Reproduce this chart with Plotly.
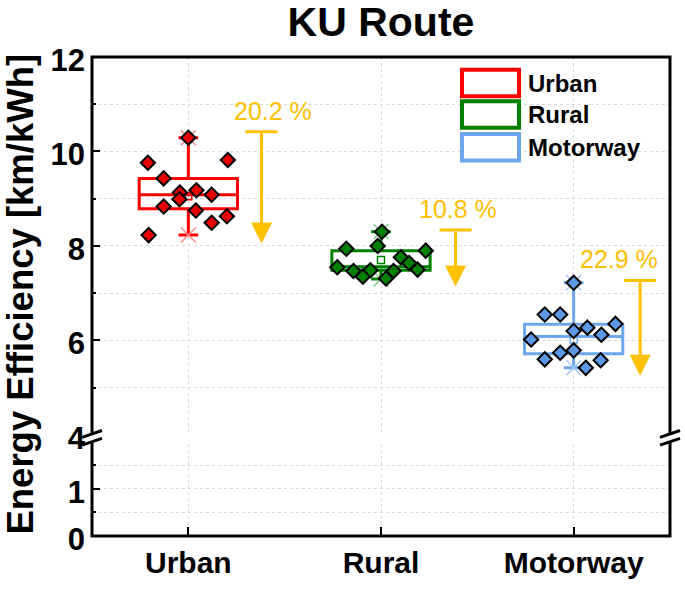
import plotly.graph_objects as go

# ---------------- data ----------------
categories = ["Urban", "Rural", "Motorway"]

urban_values = [10.29, 9.76, 9.82, 9.43, 9.13, 9.18, 9.085, 8.99, 8.835, 8.75, 8.63, 8.49, 8.23]
urban_jitter = [0.0, -0.21, 0.205, -0.128, -0.044, 0.042, 0.121, -0.046, -0.128, 0.039, 0.2, 0.121, -0.206]

rural_values = [8.30, 7.94, 8.00, 7.90, 7.76, 7.64, 7.50, 7.55, 7.47, 7.485, 7.35, 7.31, 7.47]
rural_jitter = [0.005, -0.18, -0.017, 0.232, 0.103, 0.146, 0.19, -0.227, -0.143, -0.055, -0.094, 0.026, 0.065]

motorway_values = [7.22, 6.55, 6.55, 6.35, 6.27, 6.20, 6.12, 6.02, 5.79, 5.74, 5.60, 5.58, 5.42]
motorway_jitter = [0.0, -0.15, -0.07, 0.217, 0.071, 0.0, 0.144, -0.221, 0.0, -0.07, -0.15, 0.14, 0.063]

box_q1 = [8.785, 7.485, 5.72]
box_median = [9.085, 7.56, 6.085]
box_q3 = [9.43, 7.90, 6.34]
box_lower = [8.23, 7.30, 5.42]
box_upper = [10.29, 8.30, 7.22]
box_mean = [9.05, 7.70, 6.02]

reduction_pct = [20.2, 10.8, 22.9]
arrow_top = [10.42, 8.34, 7.27]
arrow_tip = [8.05, 7.14, 5.25]

upper_ticks = [4, 6, 8, 10, 12]
lower_ticks = [0, 1]

# ---------------- styling ----------------
FONT = "Liberation Sans"
box_colors = ["#FF0000", "#008000", "#6EA6EE"]
marker_colors = ["#E80000", "#008000", "#5C98E4"]
x_colors = ["#FF8C8C", "#80D080", "#A6C8F4"]
GOLD = "#FFC000"
GRID = "#D9D9D9"

series_values = [urban_values, rural_values, motorway_values]
series_jitter = [urban_jitter, rural_jitter, motorway_jitter]

fig = go.Figure()

# dummy trace on the lower (broken) axis part
fig.add_trace(go.Scatter(x=[None], y=[None], yaxis="y", xaxis="x", showlegend=False))

for i, cat in enumerate(categories):
    pos = i + 1
    fig.add_trace(go.Box(
        x=[pos], q1=[box_q1[i]], median=[box_median[i]], q3=[box_q3[i]],
        lowerfence=[box_lower[i]], upperfence=[box_upper[i]],
        width=0.51, whiskerwidth=0.2,
        line=dict(color=box_colors[i], width=3),
        fillcolor="rgba(255,255,255,0)",
        boxpoints=False, yaxis="y2", showlegend=False, name=cat,
        hoverinfo="skip",
    ))
    # min / max cross markers
    fig.add_trace(go.Scatter(
        x=[pos, pos], y=[box_lower[i], box_upper[i]], mode="markers",
        marker=dict(symbol="x-thin", size=15, line=dict(color=x_colors[i], width=1.5)),
        yaxis="y2", showlegend=False, hoverinfo="skip",
    ))
    # mean marker
    fig.add_trace(go.Scatter(
        x=[pos], y=[box_mean[i]], mode="markers",
        marker=dict(symbol="square-open", size=7, color=box_colors[i], line=dict(width=1.5)),
        yaxis="y2", showlegend=False, hoverinfo="skip",
    ))
    # data points
    fig.add_trace(go.Scatter(
        x=[pos + j for j in series_jitter[i]], y=series_values[i], mode="markers",
        marker=dict(symbol="diamond", size=11, color=marker_colors[i],
                    line=dict(color="black", width=2)),
        yaxis="y2", showlegend=False,
    ))

# arrows with percentage labels
arrow_dx = [0.38, 0.387, 0.345]
label_dx = [0.438, 0.40, 0.237]
label_y = [10.86, 8.78, 7.72]
for i in range(3):
    ax_x = i + 1 + arrow_dx[i]
    fig.add_annotation(
        x=ax_x, y=arrow_tip[i], ax=ax_x, ay=arrow_top[i],
        xref="x", yref="y2", axref="x", ayref="y2",
        showarrow=True, arrowhead=2, arrowsize=1.4, arrowwidth=3,
        arrowcolor=GOLD, text="",
    )
    fig.add_shape(type="line", xref="x", yref="y2",
                  x0=ax_x - 0.083, x1=ax_x + 0.083, y0=arrow_top[i], y1=arrow_top[i],
                  line=dict(color=GOLD, width=3))
    fig.add_annotation(
        x=i + 1 + label_dx[i], y=label_y[i], xref="x", yref="y2",
        text=f"{reduction_pct[i]} %", showarrow=False,
        font=dict(family=FONT, size=25, color=GOLD),
        xanchor="center", yanchor="middle",
    )

# ---------------- layout ----------------
L, R, T, B = 92, 670, 57, 545
W, H = 685, 591
pw, ph = R - L, B - T


def px(xp):
    return (xp - L) / pw


def py(yp):
    return (B - yp) / ph


axis_font = dict(family=FONT, size=31, color="black", weight="bold")

fig.update_layout(
    width=W, height=H,
    margin=dict(l=L, r=W - R, t=T, b=H - B, pad=0),
    paper_bgcolor="white", plot_bgcolor="white",
    title=dict(text="<b>KU Route</b>", x=px(381), xref="paper", xanchor="center",
               y=1 - 22 / H, yref="container", yanchor="middle",
               font=dict(family=FONT, size=41, color="black")),
    xaxis=dict(
        range=[0.5, 3.5], tickmode="array", tickvals=[1, 2, 3], ticktext=categories,
        ticks="inside", ticklen=9, tickwidth=2, tickcolor="black",
        showline=False, zeroline=False,
        showgrid=True, gridcolor=GRID, griddash="dot", gridwidth=1,
        tickfont=dict(family=FONT, size=30, color="black", weight="bold"),
        anchor="y", ticklabelstandoff=6,
    ),
    yaxis=dict(
        domain=[0, py(451)], range=[0, (B - 451) / 48.125],
        tickmode="array", tickvals=lower_ticks,
        ticks="inside", ticklen=8, tickwidth=2, tickcolor="black",
        minor=dict(dtick=0.5, ticks="inside", ticklen=4, tickwidth=2, tickcolor="black",
                   showgrid=True, gridcolor=GRID, griddash="dot", gridwidth=1),
        showgrid=True, gridcolor=GRID, griddash="dot", gridwidth=1,
        showline=False, zeroline=False, tickfont=axis_font, anchor="x",
        ticklabelstandoff=6, ticklabelshift=3,
    ),
    yaxis2=dict(
        domain=[py(442), 1], range=[4, 12],
        tickmode="array", tickvals=upper_ticks,
        ticks="inside", ticklen=8, tickwidth=2, tickcolor="black",
        minor=dict(dtick=1, tick0=4, ticks="inside", ticklen=4, tickwidth=2, tickcolor="black",
                   showgrid=True, gridcolor=GRID, griddash="dot", gridwidth=1),
        showgrid=True, gridcolor=GRID, griddash="dot", gridwidth=1,
        showline=False, zeroline=False, tickfont=axis_font, anchor="x",
        ticklabelstandoff=6, ticklabelshift=3,
    ),
    showlegend=False,
)

# frame
fig.add_shape(type="rect", xref="paper", yref="paper", x0=0, x1=1, y0=0, y1=1,
              line=dict(color="black", width=3), fillcolor="rgba(0,0,0,0)", layer="above")

# axis break marks (left and right)
for cx in (L, R):
    fig.add_shape(type="line", xref="paper", yref="paper",
                  x0=px(cx), x1=px(cx), y0=py(449), y1=py(441),
                  line=dict(color="white", width=5), layer="above")
    for cy in (441, 449):
        fig.add_shape(type="line", xref="paper", yref="paper",
                      x0=px(cx - 10), x1=px(cx + 10), y0=py(cy + 3.5), y1=py(cy - 3.5),
                      line=dict(color="black", width=3), layer="above")

# y-axis title
fig.add_annotation(text="<b>Energy Efficiency [km/kWh]</b>", xref="paper", yref="paper",
                   x=px(21), y=py(299), textangle=-90, showarrow=False,
                   xanchor="center", yanchor="middle",
                   font=dict(family=FONT, size=36.5, color="black"))

# custom legend
legend_rows = [(83.5, 0), (115.5, 1), (149, 2)]
for cy, i in legend_rows:
    fig.add_shape(type="rect", xref="paper", yref="paper",
                  x0=px(462), x1=px(519), y0=py(cy + 13.5), y1=py(cy - 13.5),
                  line=dict(color=box_colors[i], width=4), fillcolor="white", layer="above")
    fig.add_annotation(text=f"<b>{categories[i]}</b>", xref="paper", yref="paper",
                       x=px(526), y=py(cy), xanchor="left", yanchor="middle", showarrow=False,
                       font=dict(family=FONT, size=24, color="black"))

fig.write_html("out.html", config={"displayModeBar": False},
               post_script="document.body.style.margin='0';document.body.style.overflow='hidden';")
